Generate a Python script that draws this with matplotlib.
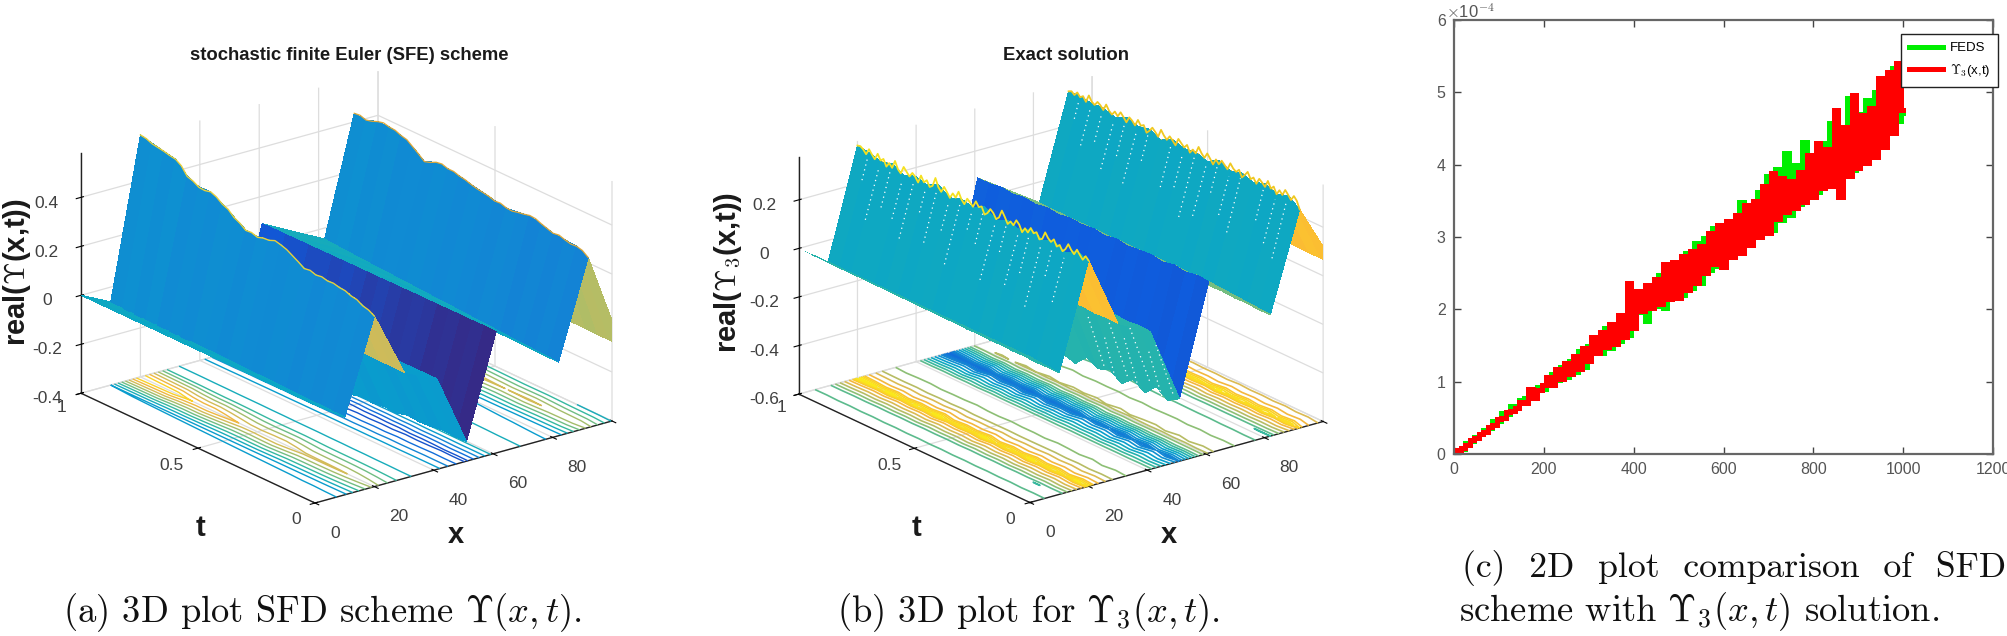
import numpy as np
import matplotlib
matplotlib.use("Agg")
import matplotlib.pyplot as plt
from matplotlib.colors import LinearSegmentedColormap, Normalize
from matplotlib.transforms import Bbox
from mpl_toolkits.mplot3d import proj3d

W, H = 2007, 636

plt.rcParams['font.family'] = ['Liberation Sans', 'DejaVu Sans']
plt.rcParams['mathtext.fontset'] = 'cm'
plt.rcParams['axes.unicode_minus'] = False
plt.rcParams['grid.color'] = '#dddddd'
plt.rcParams['grid.linewidth'] = 0.9
plt.rcParams['axes.edgecolor'] = '#222222'
plt.rcParams['axes.linewidth'] = 1.0

# parula-like colours
parula = LinearSegmentedColormap.from_list('parula', [
    '#352A87', '#0F5CDD', '#1481D6', '#06A4CA', '#2EB7A4', '#87BF77', '#D1BB59', '#FBB637', '#F9FB0E'])

# shared grid of the two surfaces
x_cols = [0, 10, 20, 30, 41, 51, 61, 82, 92, 100, 103]
t_nodes = [0, .05, .10, .15, .20, .25, .30, .35, .40, .45, .50, .55, .60, .65, .70, .75, .80, .85, .90, .95, 1]

# --- panel (a), one list per x column, t = 0 ... 1
a_x0 = [0, 0, 0, 0, 0, 0, 0, 0, 0, 0, 0, 0, 0, 0, 0, 0, 0, 0, 0, 0, 0]
a_x10 = [-.083, -.082, -.080, -.080, -.078, -.077, -.076, -.075, -.074, -.073, -.072, -.071, -.070, -.069, -.068, -.067, -.066, -.065, -.064, -.062, -.060]
a_x20 = [.296, .318, .336, .348, .352, .354, .358, .385, .410, .406, .396, .402, .432, .463, .490, .488, .510, .556, .566, .576, .588]
a_x30 = [.034, .034, .035, .035, .036, .036, .037, .037, .038, .038, .038, .039, .039, .040, .040, .040, .041, .041, .042, .042, .042]
a_x41 = [-.030, -.030, -.031, -.031, -.032, -.032, -.033, -.033, -.034, -.034, -.034, -.035, -.035, -.036, -.036, -.036, -.037, -.037, -.038, -.038, -.038]
a_x51 = [-.320, -.322, -.318, -.326, -.330, -.325, -.338, -.334, -.342, -.338, -.350, -.345, -.352, -.356, -.350, -.360, -.364, -.358, -.370, -.372, -.378]
a_x61 = [.096, .096, .095, .095, .095, .094, .094, .094, .093, .093, .092, .092, .092, .091, .091, .090, .090, .090, .089, .089, .088]
a_x82 = [-.100, -.098, -.095, -.092, -.090, -.087, -.084, -.082, -.079, -.076, -.074, -.071, -.068, -.066, -.063, -.060, -.058, -.055, -.052, -.049, -.045]
a_x92 = [.294, .318, .322, .326, .340, .352, .345, .339, .348, .358, .368, .380, .388, .392, .372, .410, .434, .446, .446, .430, .435]
a_x100 = [.010, .016, .018, .020, .022, .024, .024, .024, .026, .028, .030, .032, .034, .036, .034, .040, .044, .048, .048, .048, .050]
a_x103 = [-.103, -.102, -.101, -.100, -.100, -.099, -.098, -.098, -.097, -.096, -.095, -.094, -.094, -.093, -.092, -.092, -.091, -.090, -.090, -.089, -.088]
# colour value of each x strip at t=0 and at t=1, and its slight changes along t
a_col_t0 = [.39, .28, .74, .35, .34, .00, .40, .26, .70, .70]
a_col_t1 = [.40, .30, .70, .35, .34, .12, .42, .30, .68, .68]
a_stripe = [.00, .006, -.004, .003, -.007, .002, .006, -.005, .000, .007, -.006, .003, .008, -.004, .001, -.007, .005, -.002, .006, .000, -.003]
# small roughness of the two crests, t = 0 ... 1 in steps of .025
crest_t = [0, .025, .05, .075, .10, .125, .15, .175, .20, .225, .25, .275, .30, .325, .35, .375, .40, .425, .45, .475, .50,
           .525, .55, .575, .60, .625, .65, .675, .70, .725, .75, .775, .80, .825, .85, .875, .90, .925, .95, .975, 1]
a_crest1 = [.296, .310, .316, .330, .334, .344, .346, .352, .350, .356, .352, .360, .356, .372, .386, .400, .408, .414, .404, .402, .394,
            .402, .400, .418, .430, .452, .462, .480, .490, .484, .486, .500, .508, .540, .556, .560, .566, .570, .574, .584, .588]
a_crest2 = [.294, .312, .318, .316, .322, .330, .326, .334, .342, .352, .354, .348, .344, .338, .340, .348, .346, .354, .358, .362, .368,
            .376, .380, .388, .388, .396, .392, .380, .372, .392, .410, .428, .434, .444, .446, .452, .446, .436, .430, .438, .435]

# --- panel (b)
b_x0 = [0, 0, 0, 0, 0, 0, 0, 0, 0, 0, 0, 0, 0, 0, 0, 0, 0, 0, 0, 0, 0]
b_x10 = [-.100, -.098, -.101, -.097, -.099, -.096, -.098, -.095, -.097, -.094, -.096, -.093, -.095, -.092, -.094, -.091, -.093, -.090, -.092, -.089, -.090]
b_x20 = [.330, .345, .318, .340, .325, .348, .322, .340, .318, .350, .325, .338, .320, .352, .330, .342, .325, .348, .335, .350, .357]
b_x30 = [.038, .040, .036, .041, .037, .039, .042, .036, .040, .038, .041, .037, .039, .042, .038, .040, .037, .041, .039, .038, .040]
b_x41 = [-.033, -.030, -.036, -.031, -.035, -.032, -.034, -.030, -.036, -.032, -.034, -.031, -.035, -.033, -.030, -.036, -.032, -.034, -.031, -.035, -.033]
b_x51 = [-.343, -.372, -.338, -.385, -.352, -.392, -.358, -.376, -.350, -.398, -.384, -.410, -.372, -.420, -.390, -.412, -.380, -.430, -.402, -.425, -.440]
b_x61 = [.106, .110, .100, .108, .098, .106, .102, .096, .104, .094, .102, .096, .100, .092, .098, .090, .096, .088, .094, .086, .087]
b_x82 = [-.100, -.102, -.097, -.100, -.095, -.098, -.096, -.093, -.097, -.092, -.095, -.090, -.094, -.091, -.089, -.093, -.088, -.091, -.087, -.089, -.085]
b_x92 = [.300, .335, .318, .340, .322, .338, .325, .345, .320, .335, .328, .342, .318, .340, .330, .345, .322, .338, .335, .342, .340]
b_x100 = [.120, .130, .126, .134, .128, .132, .130, .136, .128, .132, .130, .134, .126, .134, .130, .136, .128, .132, .132, .134, .134]
b_x103 = [.040, .042, .040, .043, .041, .042, .041, .043, .040, .042, .041, .043, .040, .042, .041, .043, .040, .042, .042, .043, .042]
b_col_t0 = [.48, .40, .89, .48, .47, .12, .60, .40, .89, .89]
b_col_t1 = [.48, .40, .89, .48, .47, .14, .60, .40, .89, .89]
b_stripe = [.00, .004, -.004, .00, .004, -.002, .004, -.004, .002, .00, -.004, .004, .00, -.002, .004, -.004, .00, .002, -.004, .004, .00]
# rough crests, 81 values from t = 0 to t = 1
b_crest1 = [.330, .342, .322, .336, .352, .328, .340, .358, .332, .318, .338, .326, .350, .334, .344, .362, .330, .322, .346, .336,
            .352, .328, .340, .318, .344, .356, .330, .340, .324, .348, .368, .334, .322, .342, .352, .330, .318, .346, .338, .356,
            .328, .340, .350, .322, .336, .362, .332, .344, .320, .338, .354, .328, .342, .374, .336, .326, .348, .334, .356, .322,
            .340, .350, .330, .344, .358, .326, .338, .366, .332, .346, .326, .352, .340, .362, .334, .348, .364, .338, .352, .360, .357]
b_crest2 = [.300, .330, .344, .322, .338, .352, .326, .340, .318, .344, .330, .356, .326, .338, .348, .322, .342, .330, .354, .336,
            .320, .346, .332, .340, .356, .326, .338, .350, .330, .344, .318, .336, .352, .328, .342, .362, .330, .340, .322, .348,
            .332, .344, .356, .324, .338, .350, .330, .342, .360, .326, .340, .352, .334, .320, .346, .338, .356, .328, .342, .350,
            .324, .340, .354, .332, .346, .328, .338, .358, .330, .344, .352, .334, .342, .362, .330, .348, .338, .352, .336, .346, .340]
# white holes on the walls of panel b: t position, and how high they start
b_dots1_t = [.10, .15, .20, .25, .30, .35, .40, .45, .50, .55, .60, .65, .70, .75, .80, .85, .90, .95]
b_dots1_low = [.55, .70, .40, .62, .50, .72, .45, .68, .80, .42, .70, .50, .75, .45, .60, .62, .48, .76]
b_dots2_t = [.05, .10, .15, .25, .30, .35, .40, .45, .50, .55, .65, .70, .75, .80, .85, .90, .95]
b_dots2_low = [.45, .55, .68, .48, .60, .72, .50, .42, .65, .58, .72, .48, .66, .52, .70, .62, .80]
b_dots3_t = [.0, .05, .10, .15, .20, .25, .30]
b_dots3_low = [.20, .35, .10, .30, .18, .42, .25]

# --- panel (c), values in units of 1e-4, x = 0, 10, ... 1000
c_x = list(range(0, 1010, 10))
feds = [0,
        .06, .07, .15, .18, .24, .27, .33, .36, .46, .46,
        .56, .55, .66, .63, .74, .78, .82, .84, .92, .90,
        .98, 1.10, 1.02, 1.20, 1.06, 1.28, 1.14, 1.42, 1.20, 1.50,
        1.45, 1.62, 1.40, 1.74, 1.46, 1.80, 1.56, 1.92, 1.64, 2.04,
        1.96, 2.20, 1.84, 2.32, 2.04, 2.48, 2.02, 2.52, 2.18, 2.60,
        2.20, 2.78, 2.30, 2.92, 2.37, 2.98, 2.55, 3.13, 2.60, 3.16,
        2.82, 3.20, 2.82, 3.48, 2.95, 3.40, 3.05, 3.62, 3.10, 3.85,
        3.10, 3.94, 3.24, 4.16, 3.30, 4.00, 3.46, 4.32, 3.60, 4.10,
        3.62, 4.30, 3.79, 4.58, 3.86, 4.40, 3.90, 4.92, 3.92, 4.70,
        4.20, 4.90, 4.30, 5.00, 4.42, 5.10, 4.50, 5.34, 4.60, 4.72]
exact = [0,
         .05, .08, .13, .19, .22, .28, .31, .37, .40, .48,
         .50, .58, .60, .64, .72, .70, .90, .78, .88, .96,
         1.06, .96, 1.18, 1.04, 1.26, 1.10, 1.36, 1.18, 1.46, 1.28,
         1.62, 1.40, 1.68, 1.48, 1.80, 1.52, 1.92, 1.62, 2.36, 1.74,
         2.26, 1.98, 2.34, 2.02, 2.42, 2.08, 2.62, 2.14, 2.66, 2.16,
         2.74, 2.27, 2.80, 2.36, 2.88, 2.50, 3.05, 2.62, 3.17, 2.59,
         3.22, 2.72, 3.30, 2.78, 3.44, 2.89, 3.50, 3.00, 3.70, 3.05,
         3.88, 3.25, 3.82, 3.35, 3.78, 3.40, 3.90, 3.48, 4.13, 3.55,
         4.30, 3.68, 4.22, 3.70, 4.76, 3.55, 4.52, 3.85, 4.96, 3.95,
         4.68, 4.02, 4.78, 4.10, 5.20, 4.25, 5.28, 4.44, 5.40, 4.75]


def put(px, py, s, **kw):
    # text at a pixel position of the picture
    kw.setdefault('ha', 'center')
    kw.setdefault('va', 'center')
    return fig.text(px / W, 1 - py / H, s, **kw)


def place_box(ax, front, right):
    # size and move the square axes so the floor corners land on these pixels
    size = 600.0
    ax.set_position([100 / W, 0, size / W, size / H])
    xl, tl, zl = ax.get_xlim(), ax.get_ylim(), ax.get_zlim()

    def corners():
        xs, ys, _ = proj3d.proj_transform(np.array([xl[0], xl[1]]), np.array([tl[0], tl[0]]),
                                          np.array([zl[0], zl[0]]), ax.get_proj())
        return ax.transData.transform(np.c_[xs, ys])

    p = corners()
    want = np.array([[front[0], H - front[1]], [right[0], H - right[1]]])
    size *= np.linalg.norm(want[1] - want[0]) / np.linalg.norm(p[1] - p[0])
    ax.set_position([100 / W, 0, size / W, size / H])
    p = corners()
    dx, dy = (want - p).mean(axis=0)
    ax.set_position([(100 + dx) / W, dy / H, size / W, size / H])


def surface_panel(rect_front, rect_right, columns, col_t0, col_t1, stripe, zlim, zticks, zlabels, levels, contour_lw):
    ax = fig.add_subplot(projection='3d', proj_type='ortho', computed_zorder=False)
    ax.patch.set_visible(False)
    ax.view_init(elev=21.1, azim=-127.5)
    ax.set_box_aspect((374, 384, 257))
    ax.set_xlim(0, 100, view_margin=0)
    ax.set_ylim(0, 1, view_margin=0)
    ax.set_zlim(zlim[0], zlim[1], view_margin=0)
    place_box(ax, rect_front, rect_right)

    Z = np.array(columns).T
    X, T = np.meshgrid(x_cols, t_nodes)
    norm = Normalize(zlim[0], zlim[1])

    # colours of the strips
    tt = np.array(t_nodes)[:, None]
    cvals = np.array(col_t0 + col_t0[-1:])[None, :] * (1 - tt) + np.array(col_t1 + col_t1[-1:])[None, :] * tt
    cvals = np.clip(cvals + np.array(stripe)[:, None], 0, 1)
    surf = ax.plot_surface(X, T, Z, facecolors=parula(cvals), rstride=1, cstride=1, shade=False,
                           linewidth=0, antialiased=False, zorder=2)
    surf.set_clip_box(Bbox([[0, 0], [rect_right[0], H]]))

    # contour lines on the floor stop at the x limit
    ax.contour(X[:, :-1], T[:, :-1], Z[:, :-1], levels=levels, zdir='z', offset=zlim[0],
               cmap=parula, norm=norm, linewidths=contour_lw, zorder=1)

    for axis in (ax.xaxis, ax.yaxis, ax.zaxis):
        axis.set_pane_color((1, 1, 1, 0))
        axis.pane.set_edgecolor((1, 1, 1, 0))
    ax.set_xticks([0, 20, 40, 60, 80, 100], ['0', '20', '40', '60', '80', ''])
    # the t labels are put by hand below, their place cannot be reached with pad
    ax.set_yticks([0, .5, 1], ['', '', ''])
    ax.set_zticks(zticks, zlabels)
    ax.tick_params(axis='x', labelsize=12.5, labelcolor='#404040', pad=6)
    ax.tick_params(axis='z', labelsize=12.5, labelcolor='#404040', pad=6)
    for lab in ax.get_xticklabels():
        lab.set_ha('left')
    return ax


fig = plt.figure(figsize=(W / 100, H / 100), dpi=100)
tick_txt = dict(fontsize=12.5, color='#404040')

# (a)
ax_a = surface_panel((315, 503), (612, 421),
                     [a_x0, a_x10, a_x20, a_x30, a_x41, a_x51, a_x61, a_x82, a_x92, a_x100, a_x103],
                     a_col_t0, a_col_t1, a_stripe, (-.4, .58), [-.4, -.2, 0, .2, .4], ['-0.4', '-0.2', '0', '0.2', '0.4'],
                     np.arange(-.38, .58, .08), 1.0)
ax_a.plot([20] * len(crest_t), crest_t, a_crest1, color='#E8CF3A', lw=1.0, zorder=3)
ax_a.plot([92] * len(crest_t), crest_t, a_crest2, color='#E0A838', lw=0.9, zorder=3)
put(349, 55, 'stochastic finite Euler (SFE) scheme', fontsize=13.3, fontweight='bold', color='#1a1a1a')
put(17, 272, r'real($\Upsilon$(x,t))', fontsize=21, fontweight='bold', rotation=90, color='#1a1a1a')
put(201, 528, 't', fontsize=21, fontweight='bold', color='#1a1a1a')
put(456, 535, 'x', fontsize=21, fontweight='bold', color='#1a1a1a')
put(62, 408, '1', **tick_txt)
put(171, 465, '0.5', **tick_txt)
put(296, 519, '0', **tick_txt)

# (b)
ax_b = surface_panel((1030, 503), (1323, 421),
                     [b_x0, b_x10, b_x20, b_x30, b_x41, b_x51, b_x61, b_x82, b_x92, b_x100, b_x103],
                     b_col_t0, b_col_t1, b_stripe, (-.6, .376), [-.6, -.4, -.2, 0, .2], ['-0.6', '-0.4', '-0.2', '0', '0.2'],
                     [-.42, -.40, -.38, -.36, -.34, -.30, -.25, -.20, -.15, -.10, -.05, .02, .09, .16, .23, .28, .30, .32, .34], 1.2)
crest_81 = np.arange(81) / 80
ax_b.plot([20] * 81, crest_81, b_crest1, color='#F5E020', lw=1.3, zorder=3)
ax_b.plot([92] * 81, crest_81, b_crest2, color='#F0C820', lw=1.3, zorder=3)
for t, low in zip(b_dots1_t, b_dots1_low):
    i = t_nodes.index(t)
    ax_b.plot([10 + 10 * low, 19.5], [t, t], [b_x10[i] + low * (b_x20[i] - b_x10[i]), b_x20[i] - .02],
              color='white', lw=0.9, ls=(0, (1, 3)), zorder=3)
for t, low in zip(b_dots2_t, b_dots2_low):
    i = t_nodes.index(t)
    ax_b.plot([82 + 10 * low, 91.5], [t, t], [b_x82[i] + low * (b_x92[i] - b_x82[i]), b_x92[i] - .02],
              color='white', lw=0.9, ls=(0, (1, 3)), zorder=3)
for t, low in zip(b_dots3_t, b_dots3_low):
    i = t_nodes.index(t)
    ax_b.plot([41 + 10 * low, 49], [t, t], [b_x41[i] + low * (b_x51[i] - b_x41[i]), b_x51[i] + .02],
              color='white', lw=0.9, ls=(0, (1, 3)), zorder=3)
put(1066, 55, 'Exact solution', fontsize=13.3, fontweight='bold', color='#1a1a1a')
put(728, 272, r'real($\Upsilon_3$(x,t))', fontsize=21, fontweight='bold', rotation=90, color='#1a1a1a')
put(917, 528, 't', fontsize=21, fontweight='bold', color='#1a1a1a')
put(1169, 535, 'x', fontsize=21, fontweight='bold', color='#1a1a1a')
put(781, 408, '1', **tick_txt)
put(889, 465, '0.5', **tick_txt)
put(1010, 519, '0', **tick_txt)

# (c)
ax_c = fig.add_axes([1454 / W, 1 - 454 / H, (1993 - 1454) / W, (454 - 20) / H])
ax_c.plot(c_x, feds, color='#00EE00', lw=3.6, drawstyle='steps-mid', solid_joinstyle='miter', label='FEDS')
ax_c.plot(c_x, exact, color='#FF0000', lw=3.6, drawstyle='steps-mid', solid_joinstyle='miter', label=r'$\Upsilon_3$(x,t)')
ax_c.set_xlim(0, 1200)
ax_c.set_ylim(0, 6)
ax_c.tick_params(direction='in', top=True, right=True, length=5, width=1, color='#444444', labelcolor='#555555',
                 labelsize=11.5, pad=6)
for side in ax_c.spines.values():
    side.set_color('#666666')
    side.set_linewidth(1.6)
put(1470, 12, r'$\times$10$^{-4}$', fontsize=12, color='#555555')
leg = ax_c.legend(loc='upper left', bbox_to_anchor=((1901 - 1454) / 539, 1 - (34 - 20) / 434), fontsize=9.5,
                  frameon=True, fancybox=False, framealpha=1, edgecolor='#222222', borderaxespad=0, borderpad=0.6,
                  handlelength=2.6, handletextpad=0.5, labelspacing=0.6)
leg.get_frame().set_linewidth(1.0)

# captions
cap = dict(family=['cmr10'], color='#111111', ha='left')
put(63, 613, r'(a) 3D plot SFD scheme $\Upsilon(x,t)$.', fontsize=26.3, **cap)
put(837, 613, r'(b) 3D plot for $\Upsilon_3(x,t)$.', fontsize=26.3, **cap)
put(1462, 568, r'(c)  2D  plot  comparison  of  SFD', fontsize=25.7, **cap)
put(1459, 612, r'scheme with $\Upsilon_3(x,t)$ solution.', fontsize=26.3, **cap)

fig.savefig('out.png', dpi=100)
